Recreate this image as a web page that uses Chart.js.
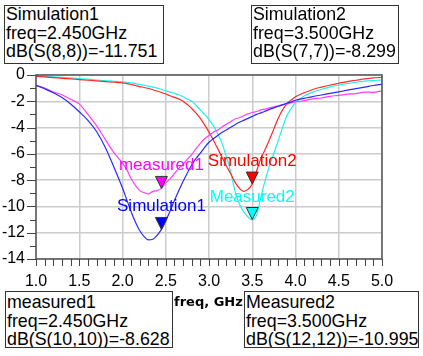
<!DOCTYPE html>
<html><head><meta charset="utf-8">
<script src="https://cdn.jsdelivr.net/npm/chart.js@4/dist/chart.umd.min.js"></script>
<style>
html,body{margin:0;padding:0;background:#fff;}
#wrap{position:relative;width:423px;height:356px;overflow:hidden;background:#fff;}
#c{position:absolute;left:0;top:0;}
.box{position:absolute;box-sizing:border-box;border:1px solid #333;background:#fff;font-family:"Liberation Sans",Arial,sans-serif;font-size:17.8px;line-height:18.6px;color:#000;padding-left:1px;white-space:nowrap;overflow:hidden;}
.box .in{position:relative;}
#xtitle{position:absolute;left:174px;top:294px;font:bold 13px "DejaVu Sans",sans-serif;line-height:15px;color:#000;white-space:nowrap;}
</style></head>
<body>
<div id="wrap">
<canvas id="c" width="423" height="356"></canvas>
<div class="box" id="b1" style="left:4px;top:5px;width:160px;height:59px;"><div class="in" style="top:-1px"></div></div>
<div class="box" id="b2" style="left:251px;top:5px;width:148px;height:59px;"><div class="in" style="top:-1px"></div></div>
<div class="box" id="b3" style="left:5px;top:291px;width:168px;height:57px;"><div class="in" style="top:1px"></div></div>
<div class="box" id="b4" style="left:244px;top:291px;width:175px;height:57px;"><div class="in" style="top:1px"></div></div>
<div id="xtitle">freq, GHz</div>
</div>
<script>
// ---- data ----
const freqGHz = [1.0,1.1,1.2,1.3,1.4,1.5,1.6,1.7,1.8,1.9,
  2.0,2.05,2.1,2.15,2.2,2.25,2.3,2.35,2.4,2.45,2.5,2.55,2.6,2.65,2.7,2.75,2.8,2.85,2.9,2.95,
  3.0,3.05,3.1,3.15,3.2,3.25,3.3,3.35,3.4,3.45,3.5,3.55,3.6,3.65,3.7,3.75,3.8,3.85,3.9,3.95,
  4.0,4.1,4.2,4.3,4.4,4.5,4.6,4.7,4.8,4.9,5.0];

// Simulation1 : dB(S(8,8))
const sim1_S88 = [-0.78,-1.05,-1.35,-1.72,-2.2,-2.8,-3.45,-4.3,-5.5,-7.0,
  -8.6,-9.5,-10.4,-11.2,-11.85,-12.3,-12.55,-12.5,-12.2,-11.75,-11.1,-10.35,-9.55,-8.8,-8.1,-7.45,-6.85,-6.35,-5.95,-5.5,
  -5.12,-4.85,-4.6,-4.38,-4.18,-3.98,-3.78,-3.6,-3.45,-3.3,-3.15,-3.0,-2.88,-2.75,-2.62,-2.5,-2.38,-2.27,-2.15,-2.05,
  -1.92,-1.78,-1.64,-1.52,-1.4,-1.28,-1.15,-1.03,-0.92,-0.8,-0.7];

// measured1 : dB(S(10,10))
const meas1_S1010 = [-0.8,-1.0,-1.3,-1.5,-1.85,-2.2,-3.0,-3.85,-4.9,-5.9,
  -6.7,-7.2,-7.9,-8.4,-8.8,-8.95,-9.05,-8.85,-8.8,-8.63,-8.2,-7.9,-7.5,-7.1,-6.8,-6.4,-6.05,-5.6,-5.2,-4.85,
  -4.6,-4.35,-4.2,-3.95,-3.75,-3.55,-3.35,-3.25,-3.1,-2.95,-2.85,-2.78,-2.65,-2.6,-2.5,-2.42,-2.35,-2.25,-2.22,-2.1,
  -2.05,-1.95,-1.82,-1.75,-1.62,-1.55,-1.45,-1.42,-1.3,-1.32,-1.2];

// Simulation2 : dB(S(7,7))
const sim2_S77 = [-0.1,-0.15,-0.2,-0.25,-0.3,-0.35,-0.4,-0.45,-0.5,-0.55,
  -0.6,-0.65,-0.72,-0.8,-0.88,-0.95,-1.03,-1.12,-1.22,-1.33,-1.45,-1.58,-1.7,-1.82,-2.0,-2.25,-2.55,-2.9,-3.3,-3.8,
  -4.35,-4.95,-5.6,-6.25,-6.9,-7.5,-8.15,-8.6,-8.85,-8.7,-8.3,-7.3,-6.35,-5.65,-4.9,-4.1,-3.3,-2.65,-2.2,-1.9,
  -1.65,-1.35,-1.1,-0.92,-0.76,-0.63,-0.5,-0.4,-0.3,-0.22,-0.18];

// Measured2 : dB(S(12,12))
const meas2_S1212 = [-0.05,-0.1,-0.14,-0.18,-0.22,-0.27,-0.32,-0.38,-0.42,-0.48,
  -0.52,-0.55,-0.6,-0.65,-0.72,-0.78,-0.85,-0.92,-1.0,-1.1,-1.2,-1.3,-1.4,-1.5,-1.65,-1.82,-2.0,-2.3,-2.65,-3.0,
  -3.4,-3.85,-4.45,-5.2,-6.2,-7.35,-8.8,-9.8,-10.4,-10.8,-11.0,-10.65,-9.3,-8.0,-6.9,-5.95,-5.0,-4.0,-3.1,-2.55,
  -2.1,-1.6,-1.3,-1.1,-0.9,-0.76,-0.65,-0.55,-0.47,-0.42,-0.38];

// markers
const markerNames  = ["Simulation1","Simulation2","measured1","Measured2"];
const markerFreq   = [2.45, 3.5, 2.45, 3.5];
const markerValue  = [-11.751, -8.299, -8.628, -10.995];
const markerTrace  = ["dB(S(8,8))","dB(S(7,7))","dB(S(10,10))","dB(S(12,12))"];
const markerColors = ["#0000ff","#ff0000","#ff00ff","#00ffff"];
const markerBoxIds = ["b1","b2","b3","b4"];

const seriesLabels = ["dB(S(8,8))","dB(S(10,10))","dB(S(7,7))","dB(S(12,12))"];
const seriesValues = [sim1_S88, meas1_S1010, sim2_S77, meas2_S1212];
const seriesColors = ["#2a2aff","#ff3cff","#ff2a2a","#22f0f0"];

const xRange = [1.0, 5.0];
const yRange = [-14, 0];

// ---- marker readout boxes (real text) ----
markerNames.forEach((n,i)=>{
  const el = document.querySelector('#'+markerBoxIds[i]+' .in');
  el.innerHTML = n + '<br>freq=' + markerFreq[i].toFixed(3) + 'GHz<br>' +
    markerTrace[i] + '=' + markerValue[i].toFixed(3);
});

const FONT = '"Liberation Sans", Arial, sans-serif';

const overlay = {
  id: 'overlay',
  afterDraw(chart) {
    const {ctx, chartArea: a, scales: {x, y}} = chart;
    ctx.save();
    // frame
    ctx.strokeStyle = '#555';
    ctx.lineWidth = 1.5;
    ctx.strokeRect(a.left, a.top, a.right - a.left, a.bottom - a.top);
    // tick marks
    ctx.strokeStyle = '#444';
    ctx.lineWidth = 1;
    ctx.beginPath();
    for (let v = yRange[0]; v <= yRange[1]; v += 1) {
      const py = Math.round(y.getPixelForValue(v)) + 0.5;
      const len = (v % 2 === 0) ? 9 : 6;
      ctx.moveTo(a.left - len, py); ctx.lineTo(a.left, py);
    }
    for (let i = 0; i <= 40; i++) {
      const f = xRange[0] + i * 0.1;
      const px = Math.round(x.getPixelForValue(f)) + 0.5;
      ctx.moveTo(px, a.bottom); ctx.lineTo(px, a.bottom + 7);
    }
    ctx.stroke();
    // markers
    ctx.font = '17px ' + FONT;
    ctx.textAlign = 'center';
    ctx.textBaseline = 'alphabetic';
    markerNames.forEach((n, i) => {
      const px = x.getPixelForValue(markerFreq[i]);
      const py = y.getPixelForValue(markerValue[i]);
      ctx.beginPath();
      ctx.moveTo(px - 6, py - 12);
      ctx.lineTo(px + 6, py - 12);
      ctx.lineTo(px, py);
      ctx.closePath();
      ctx.fillStyle = markerColors[i];
      ctx.fill();
      ctx.strokeStyle = '#333';
      ctx.lineWidth = 1;
      ctx.stroke();
      ctx.fillStyle = markerColors[i];
      ctx.fillText(n, px, py - 18);
    });
    ctx.restore();
  }
};

new Chart(document.getElementById('c'), {
  type: 'line',
  data: {
    datasets: seriesValues.map((vals, k) => ({
      label: seriesLabels[k],
      data: freqGHz.map((f, i) => ({x: f, y: vals[i]})),
      borderColor: seriesColors[k],
      borderWidth: 1.2,
      pointRadius: 0,
      fill: false,
      cubicInterpolationMode: 'monotone'
    }))
  },
  options: {
    responsive: false,
    devicePixelRatio: 1,
    animation: false,
    layout: {padding: {top: 75, right: 41, bottom: 0, left: 0}},
    plugins: {legend: {display: false}, tooltip: {enabled: false}},
    scales: {
      x: {
        type: 'linear', min: xRange[0], max: xRange[1],
        afterFit: s => { s.height = 97; },
        grid: {color: '#cccccc', lineWidth: 1.5, drawTicks: false},
        border: {display: false},
        ticks: {stepSize: 0.5, padding: 13, color: '#000', font: {family: FONT, size: 16},
          callback: v => Number(v).toFixed(1), maxRotation: 0, autoSkip: false}
      },
      y: {
        type: 'linear', min: yRange[0], max: yRange[1],
        afterFit: s => { s.width = 36; },
        grid: {color: '#cccccc', lineWidth: 1.5, drawTicks: false},
        border: {display: false},
        ticks: {stepSize: 2, padding: 11, color: '#000', font: {family: FONT, size: 16}}
      }
    }
  },
  plugins: [overlay]
});
</script>
</body></html>
